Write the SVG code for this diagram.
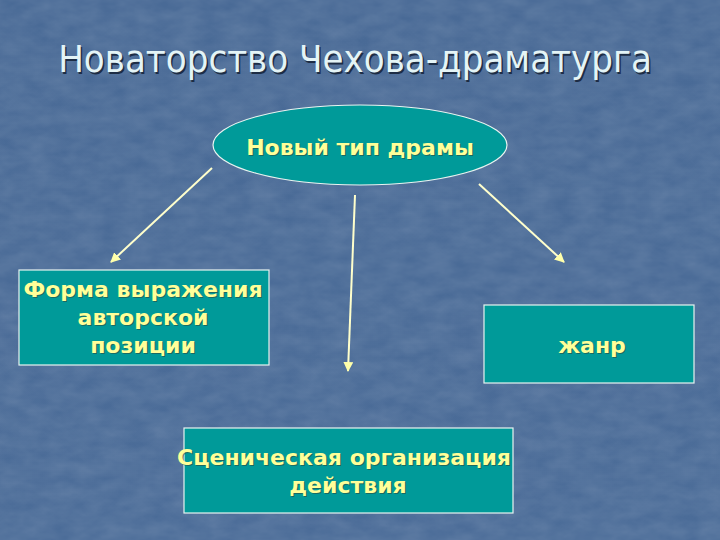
<svg xmlns="http://www.w3.org/2000/svg" width="720" height="540" viewBox="0 0 720 540">
<defs>
<style>
.box{fill:#009a99;stroke:#e8f4f0;stroke-width:1.2}
.lbl{font-family:"DejaVu Sans","Verdana",sans-serif;font-weight:bold;font-size:22px;fill:#ffff99;text-anchor:middle}
.sh{fill:#2a4a40;opacity:0.6}
.conn{stroke:#ffffcc;stroke-width:2;fill:none;marker-end:url(#ah)}
.title{font-family:"DejaVu Sans Condensed","Liberation Sans Narrow",sans-serif;font-size:38px;fill:#e4f4f6}
</style>
<marker id="ah" viewBox="0 0 10 10" refX="9" refY="5" markerWidth="5" markerHeight="5" orient="auto" markerUnits="strokeWidth">
<path d="M0,0 L10,5 L0,10 Z" fill="#ffffaa"/>
</marker>
<filter id="tex" x="0" y="0" width="100%" height="100%">
<feTurbulence type="fractalNoise" baseFrequency="0.04 0.08" numOctaves="3" seed="4" result="n"/>
<feColorMatrix type="matrix" values="0 0 0 0 1  0 0 0 0 1  0 0 0 0 1  0 0 0 0.35 -0.05" in="n"/>
</filter>
<linearGradient id="bg" x1="0" y1="0" x2="0" y2="1">
<stop offset="0" stop-color="#496a96"/>
<stop offset="1" stop-color="#4b6c98"/>
</linearGradient>
</defs>
<rect width="720" height="540" fill="url(#bg)"/>
<rect width="720" height="540" filter="url(#tex)" opacity="0.4"/>

<g id="title">
<text class="title" x="355" y="72" text-anchor="middle" style="fill:#1d2d45" dx="1.5" dy="1.5">Новаторство Чехова-драматурга</text>
<text class="title" x="355" y="72" text-anchor="middle">Новаторство Чехова-драматурга</text>
</g>

<g id="connectors">
<line class="conn" x1="212" y1="168" x2="111" y2="262"/>
<line class="conn" x1="355" y1="195" x2="348" y2="371"/>
<line class="conn" x1="479" y1="184" x2="564" y2="262"/>
</g>

<g id="node-center">
<ellipse class="box" cx="360" cy="145" rx="147" ry="40"/>
<text class="lbl sh" x="361" y="156">Новый тип драмы</text>
<text class="lbl" x="360" y="155">Новый тип драмы</text>
</g>

<g id="node-form">
<rect class="box" x="19" y="270" width="250" height="95"/>
<text class="lbl sh" x="144" y="298">Форма выражения</text>
<text class="lbl" x="143" y="297">Форма выражения</text>
<text class="lbl sh" x="144" y="326">авторской</text>
<text class="lbl" x="143" y="325">авторской</text>
<text class="lbl sh" x="144" y="354">позиции</text>
<text class="lbl" x="143" y="353">позиции</text>
</g>

<g id="node-genre">
<rect class="box" x="484" y="305" width="210" height="78"/>
<text class="lbl sh" x="593" y="354">жанр</text>
<text class="lbl" x="592" y="353">жанр</text>
</g>

<g id="node-stage">
<rect class="box" x="184" y="428" width="329" height="85"/>
<text class="lbl sh" x="345" y="466">Сценическая организация</text>
<text class="lbl" x="344" y="465">Сценическая организация</text>
<text class="lbl sh" x="349" y="494">действия</text>
<text class="lbl" x="348" y="493">действия</text>
</g>
</svg>
